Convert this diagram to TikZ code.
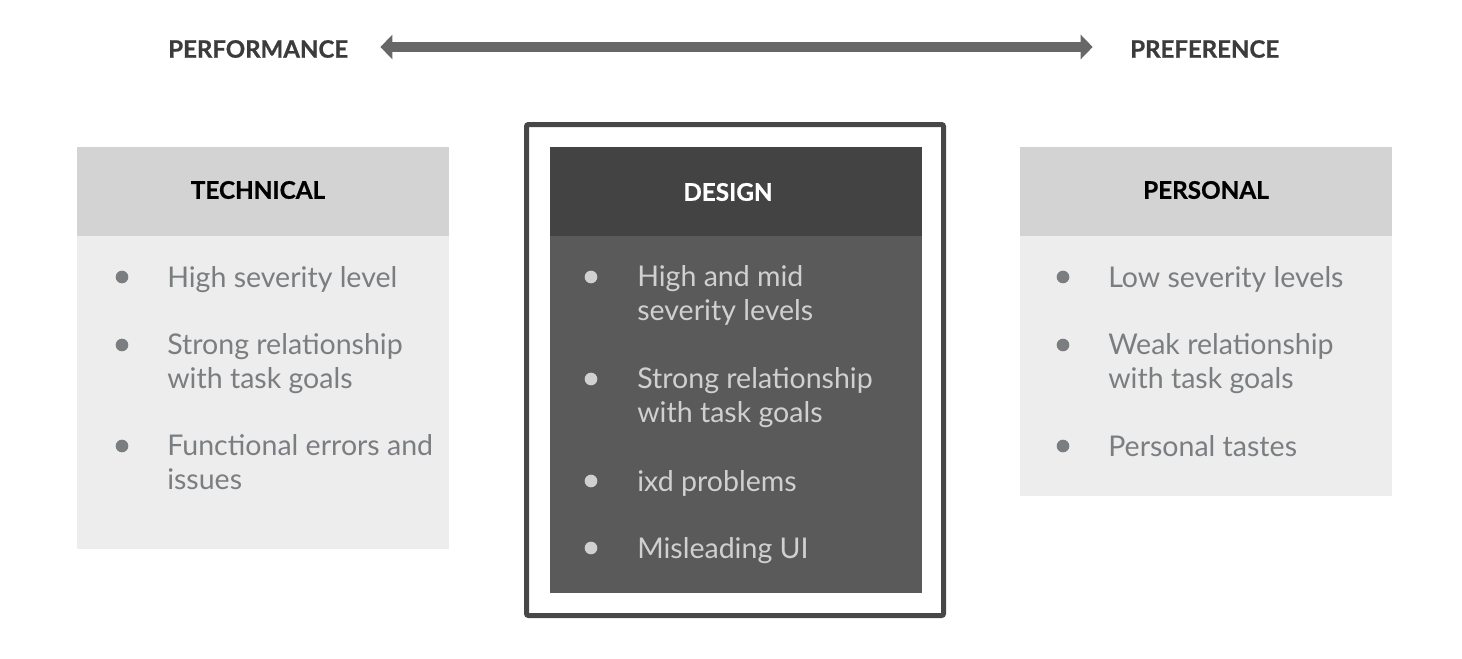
\documentclass[tikz,border=0pt]{standalone}
\usepackage{fontspec}
\setmainfont{Lato}
\newfontfamily\headfont{Lato}[BoldFeatures={FakeBold=0.8}]
\usetikzlibrary{positioning,arrows.meta}
\definecolor{headlight}{HTML}{D3D3D3}
\definecolor{bodylight}{HTML}{EDEDED}
\definecolor{headdark}{HTML}{434343}
\definecolor{bodydark}{HTML}{5A5A5A}
\definecolor{framegray}{HTML}{474747}
\definecolor{arrowgray}{HTML}{676767}
\definecolor{titlegray}{HTML}{3B3B3B}
\definecolor{textgray}{HTML}{7B7E81}
\definecolor{textpale}{HTML}{D0D0D0}

\begin{document}
\begin{tikzpicture}[x=0.75pt, y=-0.75pt,
    title/.style={font=\fontsize{18}{20}\headfont\bfseries, text=titlegray, inner sep=0pt},
    head/.style={font=\fontsize{18.2}{20}\headfont\bfseries, inner sep=0pt},
    panel/.style={anchor=north west, minimum width=279pt, inner sep=0pt, outer sep=0pt},
    item/.style={font=\fontsize{21.4}{25}\selectfont, align=left, anchor=base west, inner sep=0pt},
    dot/.style={circle, inner sep=0pt, minimum size=9.5pt}]
  \useasboundingbox (0,0) rectangle (1462,658);

  % scale at the top
  \node[title, anchor=west] (perf) at (168,49) {PERFORMANCE};
  \node[title, anchor=west] (pref) at (1130,49) {PREFERENCE};
  \draw[arrowgray, line width=7.5pt, shorten <=24pt, shorten >=28pt,
        {Triangle[width=18pt,length=9pt]}-{Triangle[width=18pt,length=9pt]}]
    (perf.east |- 0,47) -- (pref.west |- 0,47);

  % technical
  \node[panel, fill=headlight, minimum height=66.75pt] (tech-head) at (77,147) {};
  \node[panel, fill=bodylight, minimum height=234.75pt, below=0pt of tech-head.south west, anchor=north west] (tech-body) {};
  \node[head, text=black] (tech-title) at (258,190) {TECHNICAL};
  \node[dot, fill=textgray] (tech-d1) at (122,277) {};
  \node[dot, fill=textgray] (tech-d2) at (122,345) {};
  \node[dot, fill=textgray] (tech-d3) at (122,446) {};
  % multi-line items: base is the last line
  \node[item, text=textgray] (tech-t1) at (167,287) {High severity level};
  \node[item, text=textgray] (tech-t2) at (167,388) {Strong relationship\\with task goals};
  \node[item, text=textgray] (tech-t3) at (167,489) {Functional errors and\\issues};

  % design (highlighted)
  \draw[framegray, line width=3.75pt, rounded corners=1.5pt] (526.5,124.5) rectangle (943.5,615.5);
  \node[panel, fill=headdark, minimum height=66.75pt] (des-head) at (550,147) {};
  \node[panel, fill=bodydark, minimum height=267.75pt, below=0pt of des-head.south west, anchor=north west] (des-body) {};
  \node[head, text=white] (des-title) at (728,192) {DESIGN};
  \node[dot, fill=textpale] (des-d1) at (591,277) {};
  \node[dot, fill=textpale] (des-d2) at (591,379) {};
  \node[dot, fill=textpale] (des-d3) at (591,481) {};
  \node[dot, fill=textpale] (des-d4) at (591,548) {};
  \node[item, text=textpale] (des-t1) at (637,320) {High and mid\\severity levels};
  \node[item, text=textpale] (des-t2) at (637,422) {Strong relationship\\with task goals};
  \node[item, text=textpale] (des-t3) at (637,491) {ixd problems};
  \node[item, text=textpale] (des-t4) at (637,558) {Misleading UI};

  % personal
  \node[panel, fill=headlight, minimum height=66.75pt] (pers-head) at (1020,147) {};
  \node[panel, fill=bodylight, minimum height=195pt, below=0pt of pers-head.south west, anchor=north west] (pers-body) {};
  \node[head, text=black] (pers-title) at (1206,190) {PERSONAL};
  \node[dot, fill=textgray] (pers-d1) at (1063,277) {};
  \node[dot, fill=textgray] (pers-d2) at (1063,345) {};
  \node[dot, fill=textgray] (pers-d3) at (1063,446) {};
  \node[item, text=textgray] (pers-t1) at (1108,287) {Low severity levels};
  \node[item, text=textgray] (pers-t2) at (1108,388) {Weak relationship\\with task goals};
  \node[item, text=textgray] (pers-t3) at (1108,456) {Personal tastes};
\end{tikzpicture}
\end{document}
